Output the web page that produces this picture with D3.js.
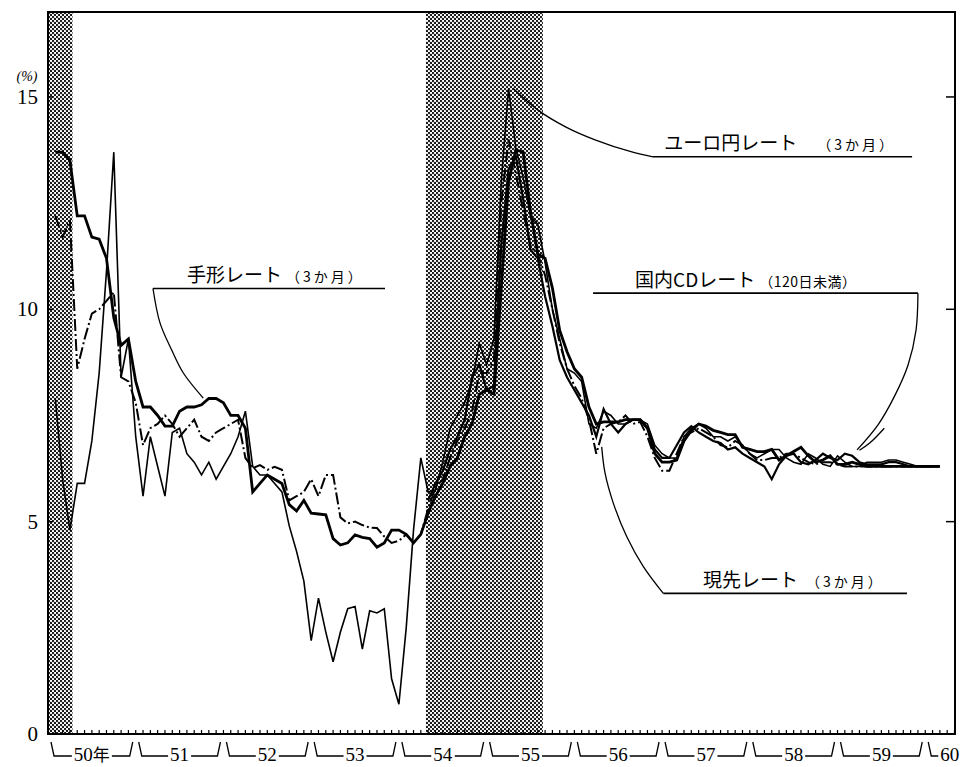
<!DOCTYPE html>
<html lang="ja">
<head>
<meta charset="UTF-8">
<title>短期金利の推移</title>
<script src="https://cdn.jsdelivr.net/npm/d3@7/dist/d3.min.js"></script>
<style>
    html, body { margin: 0; padding: 0; background: #fff; }
    svg { display: block; }
    .num { font-family: "Liberation Serif", "DejaVu Serif", serif; }
    .jp  { font-family: "Noto Sans CJK JP", sans-serif; }
</style>
</head>
<body>
<div id="chart"></div>
<script>
"use strict";

// month index: 0 = 昭和50年1月, every series is monthly
var firstMonth = 1;
var cdFirstMonth = 52;

var yearLabels = ["50", "51", "52", "53", "54", "55", "56", "57", "58", "59", "60"];
var yTicks = [0, 5, 10, 15];
var yMarks = [5, 10, 15];
// shaded periods, in months
var shadeFrom = [0, 51.7];
var shadeTo   = [3.35, 67.7];

// 手形レート（3か月）
var billRate = [
    13.7, 13.7, 13.5, 12.2, 12.2, 11.7, 11.65, 11.2, 9.8, 9.15,
    9.3, 8.3, 7.7, 7.7, 7.5, 7.25, 7.25, 7.6, 7.7, 7.7,
    7.75, 7.9, 7.9, 7.8, 7.5, 7.5, 7.2, 5.7, 5.9, 6.1,
    6.0, 5.9, 5.4, 5.25, 5.5, 5.2, 5.18, 5.16, 4.6, 4.45,
    4.5, 4.69, 4.63, 4.6, 4.4, 4.5, 4.8, 4.8, 4.7, 4.5,
    4.7, 5.2, 5.6, 5.9, 6.3, 6.5, 7.0, 7.3, 8.0, 8.1,
    8.0, 10.5, 13.0, 13.75, 13.7, 12.3, 11.3, 11.2, 10.5, 9.5,
    9.0, 8.6, 8.4, 7.7, 7.3, 7.35, 7.35, 7.35, 7.4, 7.4,
    7.4, 7.2, 6.6, 6.4, 6.4, 6.45, 6.9, 7.15, 7.3, 7.25,
    7.15, 7.1, 7.05, 7.05, 6.75, 6.7, 6.65, 6.65, 6.7, 6.45,
    6.55, 6.65, 6.75, 6.55, 6.4, 6.45, 6.55, 6.35, 6.35, 6.4,
    6.35, 6.3, 6.3, 6.3, 6.3, 6.3, 6.3, 6.3, 6.3, 6.3, 6.3, 6.3
];

// 現先レート（3か月）
var gensakiRate = [
    12.2, 11.7, 12.1, 8.6, 9.3, 9.9, 10.0, 10.2, 10.4, 8.4,
    8.3, 7.8, 6.8, 7.2, 7.3, 7.5, 7.3, 7.0, 7.2, 7.4,
    7.0, 6.9, 7.1, 7.2, 7.3, 7.4, 6.5, 6.26, 6.33, 6.22,
    6.29, 6.22, 5.5, 5.6, 5.7, 6.0, 5.6, 6.1, 6.1, 5.1,
    4.96, 5.0, 4.92, 4.86, 4.85, 4.65, 4.5, 4.55, 4.7, 4.5,
    4.7, 5.3, 5.8, 6.0, 6.5, 6.9, 7.2, 7.6, 8.5, 8.5,
    8.8, 12.5, 14.0, 13.2, 12.3, 11.5, 11.3, 10.8, 10.0, 9.2,
    8.6, 8.2, 7.9, 7.4, 6.6, 7.2, 7.3, 7.35, 7.5, 7.3,
    7.35, 7.0, 6.5, 6.2, 6.2, 6.6, 7.0, 7.1, 7.2, 7.1,
    7.0, 6.8, 6.75, 6.9, 6.8, 6.6, 6.45, 6.45, 6.5, 6.5,
    6.6, 6.6, 6.5, 6.4, 6.35, 6.4, 6.4, 6.35, 6.3, 6.3,
    6.3, 6.3, 6.3, 6.3, 6.3, 6.3, 6.3, 6.3, 6.3, 6.3, 6.3, 6.3
];

// ユーロ円レート（3か月）
var euroYenRate = [
    7.9, 6.0, 4.8, 5.9, 5.9, 6.9, 8.5, 10.9, 13.7, 8.4,
    9.3, 7.0, 5.6, 7.0, 6.3, 5.6, 7.1, 7.2, 6.6, 6.4,
    6.1, 6.4, 6.0, 6.3, 6.6, 7.0, 7.6, 6.3, 6.1, 6.1,
    5.9, 5.7, 4.9, 4.3, 3.6, 2.2, 3.2, 2.4, 1.7, 2.4,
    2.95, 3.0, 2.0, 2.9, 2.85, 2.95, 1.3, 0.7, 2.5, 4.8,
    6.5, 5.7, 5.75, 6.4, 7.2, 7.5, 7.8, 8.3, 9.2, 8.7,
    9.3, 13.0, 15.2, 13.8, 13.1, 12.2, 12.0, 11.1, 10.0, 9.3,
    8.6, 8.5, 8.3, 7.3, 7.2, 7.6, 7.5, 7.3, 7.3, 7.4,
    7.4, 7.3, 6.8, 6.6, 6.5, 6.5, 7.0, 7.2, 7.3, 7.2,
    7.0, 7.0, 6.9, 7.0, 6.8, 6.6, 6.5, 6.6, 6.7, 6.7,
    6.5, 6.4, 6.35, 6.6, 6.5, 6.35, 6.3, 6.55, 6.4, 6.3,
    6.3, 6.4, 6.4, 6.4, 6.45, 6.45, 6.4, 6.35, 6.3, 6.3, 6.3, 6.3
];

// 国内CDレート（120日未満）, from 54年5月
var cdRate = [
    5.5, 5.9, 6.2, 6.7, 7.0, 7.4, 8.4, 8.7, 8.1, 8.2,
    11.5, 13.3, 13.6, 12.6, 11.4, 11.2, 10.3, 9.6, 8.8, 8.4,
    8.1, 7.8, 7.5, 7.0, 7.65, 7.3, 7.1, 7.3, 7.4, 7.4,
    7.2, 6.7, 6.5, 6.5, 6.8, 7.1, 7.25, 7.1, 7.0, 6.9,
    6.85, 6.7, 6.75, 6.6, 6.5, 6.4, 6.3, 6.0, 6.35, 6.55,
    6.6, 6.4, 6.35, 6.45, 6.6, 6.5, 6.45, 6.6, 6.55, 6.4,
    6.35, 6.35, 6.35, 6.4, 6.4, 6.35, 6.3, 6.3, 6.3, 6.3, 6.3
];

var seriesNames = ["手形レート", "ユーロ円レート", "国内CDレート", "現先レート"];
var seriesNotes = ["（3か月）", "（3か月）", "（120日未満）", "（3か月）"];

// label underline: start month, end month, level (%), text start month
var noteLines = [
    [14.36, 46.1, 10.49, 19.0],
    [82.75, 118.2, 13.59, 84.3],
    [74.56, 119.0, 10.38, 80.3],
    [84.17, 117.5, 3.31, 89.6]
];
// leader curves in [month, %]
var leaders = [
    [[14.36, 10.49], [15.32, 9.68], [16.92, 9.04], [18.51, 8.5], [21.24, 7.91]],
    [[63.58, 15.21], [67.03, 14.69], [70.86, 14.29], [74.83, 13.99], [79.75, 13.71], [82.75, 13.59]],
    [[119.0, 10.38], [118.74, 9.51], [117.65, 8.69], [115.87, 7.98], [113.54, 7.28], [110.67, 6.69]],
    [[84.17, 3.31], [81.44, 3.94], [79.16, 4.65], [77.34, 5.43], [76.2, 6.14], [75.74, 6.76]]
];
var extraStroke = [[114.4, 7.2], [112.4, 6.85], [111.0, 6.68]];

var width = 964, height = 767;
var totalMonths = 124.07;

var x = d3.scaleLinear().domain([0, totalMonths]).range([48, 955]);
var y = d3.scaleLinear().domain([0, 17]).range([734, 12]);

var svg = d3.select("#chart").append("svg")
    .attr("width", width)
    .attr("height", height);

// halftone for the shaded periods
var pat = svg.append("defs").append("pattern")
    .attr("id", "dots")
    .attr("patternUnits", "userSpaceOnUse")
    .attr("width", 4).attr("height", 4);
pat.append("rect").attr("width", 4).attr("height", 4).attr("fill", "#fff");
pat.append("circle").attr("cx", 1).attr("cy", 1).attr("r", 1.15).attr("fill", "#111");
pat.append("circle").attr("cx", 3).attr("cy", 3).attr("r", 1.15).attr("fill", "#111");

svg.selectAll("rect.shade").data(d3.range(shadeFrom.length)).enter()
    .append("rect")
    .attr("class", "shade")
    .attr("x", function(i) { return x(shadeFrom[i]); })
    .attr("width", function(i) { return x(shadeTo[i]) - x(shadeFrom[i]); })
    .attr("y", y(17))
    .attr("height", y(0) - y(17))
    .attr("fill", "url(#dots)");

// frame
svg.append("rect")
    .attr("x", x(0)).attr("y", y(17))
    .attr("width", x(totalMonths) - x(0))
    .attr("height", y(0) - y(17))
    .attr("fill", "none")
    .attr("stroke", "#000")
    .attr("stroke-width", 2);

// monthly ticks along the bottom
svg.append("g").selectAll("line").data(d3.range(0, 125)).enter()
    .append("line")
    .attr("x1", function(m) { return x(m); })
    .attr("x2", function(m) { return x(m); })
    .attr("y1", y(0))
    .attr("y2", y(0) - 4)
    .attr("stroke", "#000")
    .attr("stroke-width", 1.2);

// y ticks on both sides
svg.append("g").selectAll("line").data(yMarks).enter()
    .append("line")
    .attr("x1", x(0)).attr("x2", x(0) + 5)
    .attr("y1", function(d) { return y(d); })
    .attr("y2", function(d) { return y(d); })
    .attr("stroke", "#000").attr("stroke-width", 1.5);
svg.append("g").selectAll("line").data(yMarks).enter()
    .append("line")
    .attr("x1", x(totalMonths)).attr("x2", x(totalMonths) - 9)
    .attr("y1", function(d) { return y(d); })
    .attr("y2", function(d) { return y(d); })
    .attr("stroke", "#000").attr("stroke-width", 1.5);

svg.append("g").selectAll("text").data(yTicks).enter()
    .append("text")
    .attr("class", "num")
    .attr("x", 38)
    .attr("y", function(d) { return y(d) + 7; })
    .attr("text-anchor", "end")
    .attr("font-size", 21)
    .text(function(d) { return d; });

svg.append("text")
    .attr("class", "num")
    .attr("x", 27).attr("y", y(15) - 16)
    .attr("text-anchor", "middle")
    .attr("font-size", 14)
    .attr("font-style", "italic")
    .text("(%)");

// year brackets under the axis
var yearG = svg.append("g");
yearLabels.forEach(function(lab, k)
{
    var x0 = x(12 * k), x1 = x(12 * k + 12);
    var last = k === yearLabels.length - 1;
    var t = yearG.append("text")
        .attr("class", "num")
        .attr("y", 761)
        .attr("font-size", 19)
        .attr("text-anchor", last ? "start" : "middle")
        .attr("x", last ? x0 + 15 : (x0 + x1) / 2);
    t.append("tspan").text(lab);
    if (k === 0) t.append("tspan").attr("class", "jp").attr("font-size", 17).text("年");
    var bb = t.node().getBBox();
    yearG.append("path")
        .attr("d", "M" + (x0 + 3) + ",742L" + (x0 + 6) + ",756L" + (bb.x - 2) + ",756")
        .attr("fill", "none").attr("stroke", "#000").attr("stroke-width", 1.3);
    if (!last) {
        yearG.append("path")
            .attr("d", "M" + (bb.x + bb.width + 2) + ",756L" + (x1 - 6) + ",756L" + (x1 - 3) + ",742")
            .attr("fill", "none").attr("stroke", "#000").attr("stroke-width", 1.3);
    }
});

// series
function toPoints(values, start)
{
    return values.map(function(v, i) { return {m: start + i, v: v}; });
}

var line = d3.line()
    .x(function(d) { return x(d.m); })
    .y(function(d) { return y(d.v); });

var series = [
    {pts: toPoints(euroYenRate, firstMonth), w: 1.6, dash: null},
    {pts: toPoints(cdRate, cdFirstMonth), w: 2.2, dash: null},
    {pts: toPoints(gensakiRate, firstMonth), w: 2.0, dash: "12,3,2,3"},
    {pts: toPoints(billRate, firstMonth), w: 2.8, dash: null}
];

svg.append("g").selectAll("path").data(series).enter()
    .append("path")
    .attr("d", function(s) { return line(s.pts); })
    .attr("fill", "none")
    .attr("stroke", "#000")
    .attr("stroke-width", function(s) { return s.w; })
    .attr("stroke-dasharray", function(s) { return s.dash; })
    .attr("stroke-linejoin", "miter");

// labels with their underlines and leader curves
var leader = d3.line()
    .x(function(d) { return x(d[0]); })
    .y(function(d) { return y(d[1]); })
    .curve(d3.curveCatmullRom);

var noteGap = [4, 20, 4, 8];
var labelG = svg.append("g");
noteLines.forEach(function(n, k)
{
    labelG.append("line")
        .attr("x1", x(n[0])).attr("x2", x(n[1]))
        .attr("y1", y(n[2])).attr("y2", y(n[2]))
        .attr("stroke", "#000").attr("stroke-width", 1.6);
    var t = labelG.append("text")
        .attr("class", "jp")
        .attr("x", x(n[3]))
        .attr("y", y(n[2]) - (k === 1 ? 7 : 6))
        .attr("font-size", 19);
    t.append("tspan").text(seriesNames[k]);
    t.append("tspan")
        .attr("dx", noteGap[k])
        .attr("font-size", 14)
        .attr("letter-spacing", k === 2 ? 0.5 : 3)
        .text(seriesNotes[k]);
    labelG.append("path")
        .attr("d", leader(leaders[k]))
        .attr("fill", "none").attr("stroke", "#000").attr("stroke-width", 1.3);
});
labelG.append("path")
    .attr("d", leader(extraStroke))
    .attr("fill", "none").attr("stroke", "#000").attr("stroke-width", 1.3);
</script>
</body>
</html>
